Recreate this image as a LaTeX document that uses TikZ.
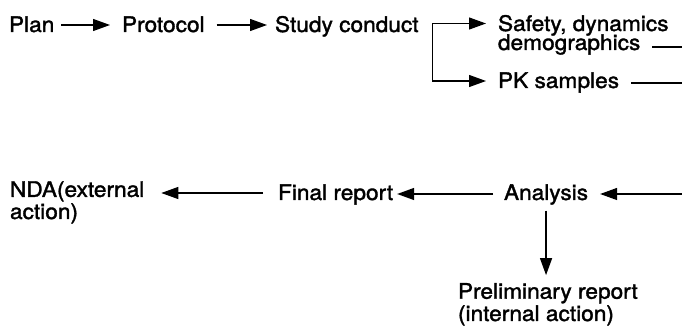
\documentclass[tikz,border=0pt]{standalone}
\usepackage{fontspec}
\setmainfont[FakeStretch=1.06,FakeBold=1.6]{TeX Gyre Heros}
\usetikzlibrary{arrows.meta}
\begin{document}
\begin{tikzpicture}[x=0.5pt,y=-0.5pt,
  lbl/.style={inner sep=0pt, outer sep=0pt, anchor=base west, align=left,
    font=\fontsize{10.7}{9.5}\selectfont},
  arr/.style={draw, line width=0.65pt, -{Triangle[length=8.5pt,width=6pt]}},
  ln/.style={draw, line width=0.65pt}]
\useasboundingbox (0,0) rectangle (682,326);
% top row
\node[lbl] (plan) at (9,32) {Plan};
\node[lbl] (protocol) at (122,32) {Protocol};
\node[lbl] (study) at (275,32) {Study conduct};
\node[lbl] (safety) at (498,31) {Safety, dynamics};
\node[lbl] (demog) at (498,50) {demographics};
\node[lbl] (pk) at (498,88) {PK samples};
% bottom row (multi-line nodes: base = last line)
\node[lbl] (nda) at (10,219) {NDA(external\\action)};
\node[lbl] (final) at (278,200) {Final report};
\node[lbl] (analysis) at (504,200) {Analysis};
\node[lbl] (prelim) at (458,321) {Preliminary report\\(internal action)};
% free ends at the right edge
\coordinate (r1) at (682,47);
\coordinate (r2) at (682,83);
\coordinate (r3) at (682,194);
\coordinate (bk) at ([xshift=7pt,yshift=4.25pt]study.base east);
% connectors
\draw[arr] ([xshift=3.5pt,yshift=3.5pt]plan.base east) -- ([xshift=-6pt,yshift=3.5pt]protocol.base west);
\draw[arr] ([xshift=6pt,yshift=3.5pt]protocol.base east) -- ([xshift=-4pt,yshift=3.5pt]study.base west);
\draw[arr, shorten >=6pt] (bk) -- (bk -| safety.west);
\draw[arr, shorten >=6pt] (bk) |- ([yshift=3.5pt]pk.base west);
\draw[ln] ([xshift=6pt,yshift=1.5pt]demog.base east) -- (r1);
\draw[ln] ([xshift=6pt,yshift=2.5pt]pk.base east) -- (r2);
\draw[arr] (r3) -- ([xshift=6pt,yshift=3pt]analysis.base east);
\draw[arr] ([xshift=-5.5pt,yshift=3pt]analysis.base west) -- ([xshift=2pt,yshift=3pt]final.base east);
\draw[arr] ([xshift=-7.5pt,yshift=3.5pt]final.base west) -- ([xshift=8.5pt,yshift=13pt]nda.base east);
\draw[arr, shorten <=3pt, shorten >=4pt] (analysis.south) -- (analysis.south |- prelim.north);
\end{tikzpicture}
\end{document}
